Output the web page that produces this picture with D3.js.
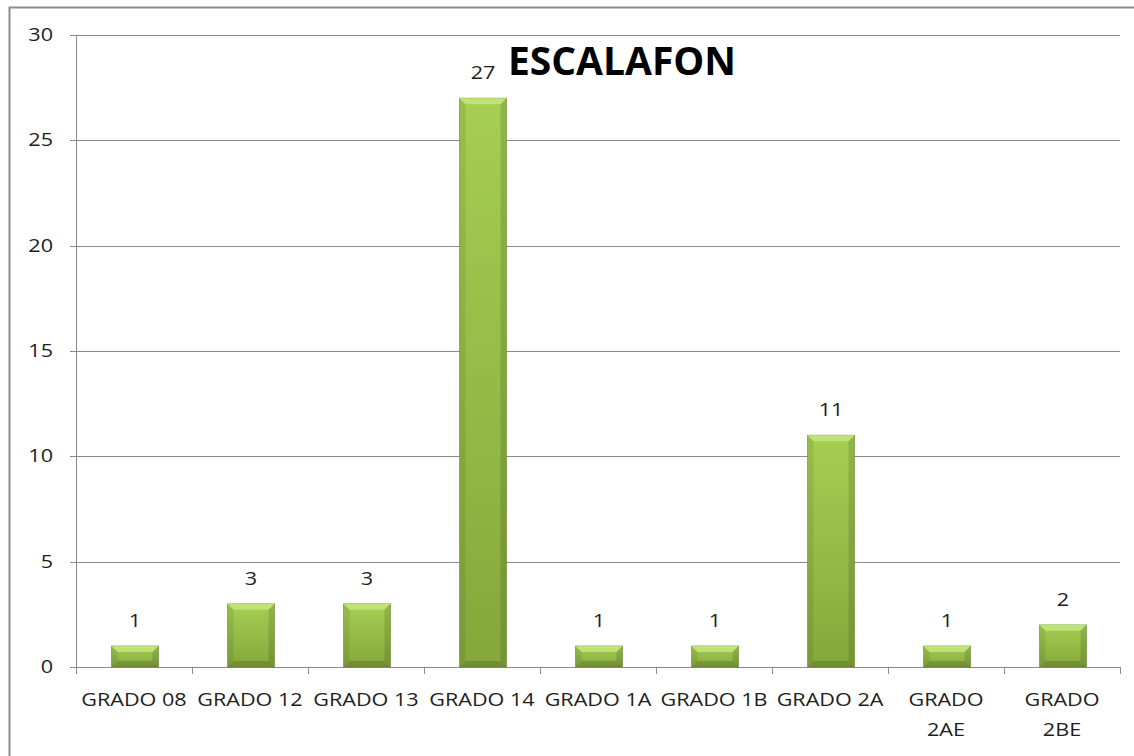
<!DOCTYPE html>
<html>
<head>
<meta charset="utf-8">
<script src="https://cdn.jsdelivr.net/npm/d3@7"></script>
<style>
  body { margin: 0; background: #fff; }
  svg { display: block; }
  text { font-family: "Open Sans", sans-serif; fill: #1e1e1e; }
</style>
</head>
<body>
<svg width="1134" height="756"></svg>
<script>
'use strict';

// chart data
const categories = ["GRADO 08", "GRADO 12", "GRADO 13", "GRADO 14", "GRADO 1A", "GRADO 1B", "GRADO 2A", "GRADO 2AE", "GRADO 2BE"];
const catLines = [["GRADO 08"], ["GRADO 12"], ["GRADO 13"], ["GRADO 14"], ["GRADO 1A"], ["GRADO 1B"], ["GRADO 2A"], ["GRADO", "2AE"], ["GRADO", "2BE"]];
const values = [1, 3, 3, 27, 1, 1, 11, 1, 2];
const yTicks = [0, 5, 10, 15, 20, 25, 30];
const title = "ESCALAFON";

const svg = d3.select("svg");
const plotL = 76, plotR = 1120, plotT = 35, plotB = 667;
const sx = 1.2; // text is stretched horizontally in the original

// outer frame
svg.append("rect")
  .attr("x", 9.5).attr("y", 7.5)
  .attr("width", 1140).attr("height", 760)
  .attr("fill", "none")
  .attr("stroke", "#8c8c8c")
  .attr("stroke-width", 2);

const x = d3.scaleBand().domain(categories).range([plotL, plotR]);
const y = d3.scaleLinear().domain([0, 30]).range([plotB, plotT]);

// gridlines
svg.append("g")
  .selectAll("line")
  .data(yTicks)
  .join("line")
  .attr("x1", plotL).attr("x2", plotR)
  .attr("y1", d => Math.round(y(d)) + 0.5)
  .attr("y2", d => Math.round(y(d)) + 0.5)
  .attr("stroke", "#8a8a8a");

// y axis
svg.append("line")
  .attr("x1", plotL + 0.5).attr("x2", plotL + 0.5)
  .attr("y1", plotT).attr("y2", plotB)
  .attr("stroke", "#8a8a8a");
svg.append("g")
  .selectAll("line")
  .data(yTicks)
  .join("line")
  .attr("x1", plotL - 6).attr("x2", plotL)
  .attr("y1", d => Math.round(y(d)) + 0.5)
  .attr("y2", d => Math.round(y(d)) + 0.5)
  .attr("stroke", "#8a8a8a");
svg.append("g")
  .selectAll("text")
  .data(yTicks)
  .join("text")
  .attr("transform", d => `translate(53,${y(d) + 6}) scale(${sx},1)`)
  .attr("text-anchor", "end")
  .attr("font-size", 18)
  .text(d => d);

// x axis ticks at band boundaries
const bounds = categories.map(c => x(c)).concat([plotR]);
svg.append("g")
  .selectAll("line")
  .data(bounds)
  .join("line")
  .attr("x1", d => Math.round(d) + 0.5).attr("x2", d => Math.round(d) + 0.5)
  .attr("y1", plotB).attr("y2", plotB + 7)
  .attr("stroke", "#8a8a8a");

// category labels
svg.append("g")
  .selectAll("g")
  .data(categories)
  .join("g")
  .each(function(c, i) {
    d3.select(this).selectAll("text")
      .data(catLines[i])
      .join("text")
      .attr("transform", (t, j) => `translate(${x(c) + x.bandwidth() / 2},${706 + j * 30}) scale(${sx},1)`)
      .attr("text-anchor", "middle")
      .attr("font-size", 18)
      .text(t => t);
  });

// bar gradients
const defs = svg.append("defs");
const grad = defs.append("linearGradient")
  .attr("id", "barFill")
  .attr("x1", 0).attr("y1", 0).attr("x2", 0).attr("y2", 1);
grad.append("stop").attr("offset", "0%").attr("stop-color", "#a5cf52");
grad.append("stop").attr("offset", "100%").attr("stop-color", "#84a83b");

const barW = 47;
const bars = svg.append("g")
  .selectAll("g")
  .data(values)
  .join("g")
  .attr("transform", (v, i) => `translate(${x(categories[i]) + x.bandwidth() / 2 - barW / 2 + 1},0)`);

bars.append("rect")
  .attr("x", 0)
  .attr("y", v => y(v))
  .attr("width", barW)
  .attr("height", v => y(0) - y(v))
  .attr("fill", "url(#barFill)")
  .attr("stroke", "#6f8f2e")
  .attr("stroke-opacity", 0.6);

// bevel edges
const bv = 6;
bars.each(function(v) {
  const g = d3.select(this);
  const t = y(v), b = y(0), w = barW;
  const bev = Math.min(bv, (b - t) / 2);
  g.append("polygon")
    .attr("points", [[0, t], [w, t], [w - bev, t + bev], [bev, t + bev]].join(" "))
    .attr("fill", "#c6e880").attr("opacity", 0.8);
  g.append("polygon")
    .attr("points", [[0, t], [bev, t + bev], [bev, b - bev], [0, b]].join(" "))
    .attr("fill", "#000").attr("opacity", 0.08);
  g.append("polygon")
    .attr("points", [[w, t], [w - bev, t + bev], [w - bev, b - bev], [w, b]].join(" "))
    .attr("fill", "#000").attr("opacity", 0.12);
  g.append("polygon")
    .attr("points", [[0, b], [bev, b - bev], [w - bev, b - bev], [w, b]].join(" "))
    .attr("fill", "#000").attr("opacity", 0.15);
});

// value labels
svg.append("g")
  .selectAll("text")
  .data(values)
  .join("text")
  .attr("transform", (v, i) => `translate(${x(categories[i]) + x.bandwidth() / 2 + 1},${y(v) - 19}) scale(${sx},1)`)
  .attr("text-anchor", "middle")
  .attr("font-size", 18)
  .text(v => v);

// title
svg.append("text")
  .attr("x", 508).attr("y", 75)
  .attr("font-family", "'Liberation Sans', Arial, sans-serif")
  .attr("font-weight", "bold")
  .attr("font-size", 39)
  .attr("textLength", 228)
  .attr("lengthAdjust", "spacingAndGlyphs")
  .style("fill", "#000")
  .text(title);
</script>
</body>
</html>
